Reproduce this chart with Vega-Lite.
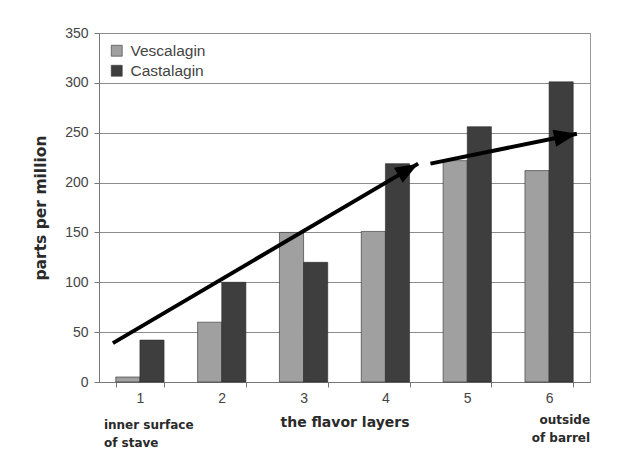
{
  "$schema": "https://vega.github.io/schema/vega-lite/v6.json",
  "autosize": "none",
  "width": 491,
  "height": 349,
  "padding": {"left": 99, "top": 33, "right": 38, "bottom": 72},
  "background": "white",
  "config": {
    "font": "Liberation Sans",
    "view": {"stroke": "#9a9a9a", "strokeWidth": 1},
    "axis": {"labelFont": "Liberation Sans", "titleFont": "DejaVu Sans"}
  },
  "datasets": {
    "bars": [
      {"layer": "1", "compound": "Vescalagin", "ppm": 5},
      {"layer": "1", "compound": "Castalagin", "ppm": 42},
      {"layer": "2", "compound": "Vescalagin", "ppm": 60},
      {"layer": "2", "compound": "Castalagin", "ppm": 100},
      {"layer": "3", "compound": "Vescalagin", "ppm": 150},
      {"layer": "3", "compound": "Castalagin", "ppm": 120},
      {"layer": "4", "compound": "Vescalagin", "ppm": 151},
      {"layer": "4", "compound": "Castalagin", "ppm": 219},
      {"layer": "5", "compound": "Vescalagin", "ppm": 222},
      {"layer": "5", "compound": "Castalagin", "ppm": 256},
      {"layer": "6", "compound": "Vescalagin", "ppm": 212},
      {"layer": "6", "compound": "Castalagin", "ppm": 301}
    ],
    "arrows": [
      {"seg": "a", "pos": 0.67, "ppm": 39, "tip": false},
      {"seg": "a", "pos": 4.40, "ppm": 219, "tip": true},
      {"seg": "b", "pos": 4.55, "ppm": 219, "tip": false},
      {"seg": "b", "pos": 6.34, "ppm": 249, "tip": true}
    ]
  },
  "layer": [
    {
      "layer": [
        {
          "data": {"name": "bars"},
          "mark": {"type": "bar", "stroke": "#2a2a2a", "strokeWidth": 0.6},
          "encoding": {
            "x": {
              "field": "layer", "type": "nominal", "title": "the flavor layers",
              "scale": {"paddingInner": 0.41, "paddingOuter": 0.205},
              "axis": {
                "labelAngle": 0, "labelFontSize": 14, "labelColor": "#444",
                "labelPadding": 4, "tickBand": "extent", "tickSize": 5,
                "tickColor": "#777", "domainColor": "#777",
                "titleFontSize": 14, "titleFontWeight": "bold", "titleColor": "#2a2a2a",
                "titlePadding": 10
              }
            },
            "xOffset": {
              "field": "compound", "type": "nominal",
              "sort": ["Vescalagin", "Castalagin"],
              "scale": {"paddingInner": 0, "paddingOuter": 0}
            },
            "y": {
              "field": "ppm", "type": "quantitative", "title": "parts per million",
              "scale": {"domain": [0, 350], "nice": false},
              "axis": {
                "values": [0, 50, 100, 150, 200, 250, 300, 350],
                "labelFontSize": 14, "labelColor": "#444", "labelPadding": 6,
                "tickSize": 5, "tickColor": "#777", "domainColor": "#777",
                "gridColor": "#8c8c8c", "gridOpacity": 1,
                "titleFontSize": 15.5, "titleFontWeight": "bold", "titleColor": "#2a2a2a",
                "titlePadding": 16
              }
            },
            "color": {
              "field": "compound", "type": "nominal",
              "sort": ["Vescalagin", "Castalagin"],
              "scale": {"domain": ["Vescalagin", "Castalagin"], "range": ["#a0a0a0", "#3e3e3e"]},
              "legend": {
                "title": null, "orient": "top-left", "offset": 10, "padding": 0,
                "symbolType": "square", "symbolSize": 120, "symbolStrokeColor": "#333",
                "symbolStrokeWidth": 0.6, "labelFontSize": 15.5, "labelColor": "#444",
                "rowPadding": 3, "labelOffset": 6
              }
            }
          }
        },
        {
          "data": {"values": [{"layer": "1", "note": "inner surface\nof stave"}]},
          "mark": {"type": "text", "align": "left", "baseline": "top", "dx": -36,
                   "font": "DejaVu Sans", "fontSize": 12, "fontWeight": "bold", "color": "#2a2a2a",
                   "lineBreak": "\n", "lineHeight": 18},
          "encoding": {
            "x": {"field": "layer", "type": "nominal"},
            "y": {"datum": -38},
            "text": {"field": "note"}
          }
        },
        {
          "data": {"values": [{"layer": "6", "note": "outside\nof barrel"}]},
          "mark": {"type": "text", "align": "right", "baseline": "top", "dx": 41,
                   "font": "DejaVu Sans", "fontSize": 12, "fontWeight": "bold", "color": "#2a2a2a",
                   "lineBreak": "\n", "lineHeight": 18},
          "encoding": {
            "x": {"field": "layer", "type": "nominal"},
            "y": {"datum": -33},
            "text": {"field": "note"}
          }
        }
      ]
    },
    {
      "data": {"name": "arrows"},
      "layer": [
        {
          "mark": {"type": "line", "color": "black", "strokeWidth": 4, "strokeCap": "butt"},
          "encoding": {
            "x": {"field": "pos", "type": "quantitative", "scale": {"domain": [0.5, 6.5], "nice": false, "zero": false}, "axis": null},
            "y": {"field": "ppm", "type": "quantitative"},
            "detail": {"field": "seg"}
          }
        },
        {
          "transform": [{"filter": "datum.tip"}],
          "mark": {"type": "point", "shape": "M0,0L-0.75,2L0.75,2Z", "filled": true, "color": "black", "opacity": 1, "size": 529},
          "encoding": {
            "x": {"field": "pos", "type": "quantitative", "scale": {"domain": [0.5, 6.5], "nice": false, "zero": false}, "axis": null},
            "y": {"field": "ppm", "type": "quantitative"},
            "angle": {"condition": {"test": "datum.seg == 'a'", "value": 59.5}, "value": 78.5}
          }
        }
      ]
    }
  ],
  "resolve": {"scale": {"x": "independent"}, "axis": {"x": "independent"}}
}
